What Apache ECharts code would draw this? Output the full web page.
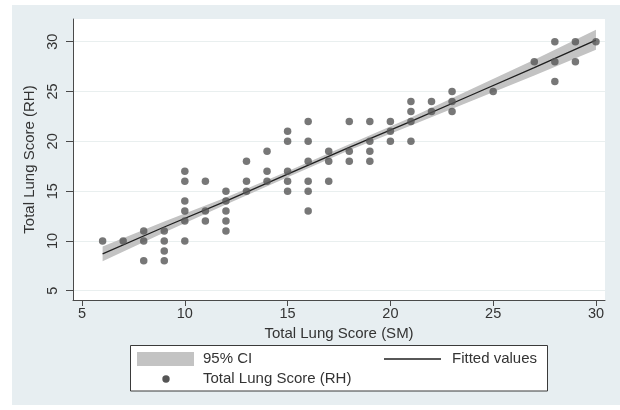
<!DOCTYPE html>
<html>
<head>
    <meta charset="UTF-8">
    <title>Total Lung Score</title>
    <style type="text/css">
        html, body {
            margin: 0;
            padding: 0;
            background: #ffffff;
        }

        #mychart {
            width: 620px;
            height: 410px;
        }
    </style>
    <script type="text/javascript" src="https://cdn.jsdelivr.net/npm/echarts@6/dist/echarts.min.js"></script>
</head>
<body>
<div id="mychart"></div>
<script type="text/javascript">
    // scatter: Total Lung Score SM (x) vs RH (y)
    var smScore = [6, 7, 8, 8, 8, 9, 9, 9, 9,
        10, 10, 10, 10, 10, 10, 11, 11, 11, 12, 12, 12, 12, 12,
        13, 13, 13, 14, 14, 14, 15, 15, 15, 15, 15, 16, 16, 16, 16, 16, 16,
        17, 17, 17, 18, 18, 18, 19, 19, 19, 19, 20, 20, 20,
        21, 21, 21, 21, 22, 22, 23, 23, 23, 25, 27, 28, 28, 28, 29, 29, 30];
    var rhScore = [10, 10, 11, 10, 8, 11, 10, 9, 8,
        17, 16, 14, 13, 12, 10, 16, 13, 12, 15, 14, 13, 12, 11,
        18, 16, 15, 19, 17, 16, 21, 20, 17, 16, 15, 22, 20, 18, 16, 15, 13,
        19, 18, 16, 22, 19, 18, 22, 20, 19, 18, 22, 21, 20,
        24, 23, 22, 20, 24, 23, 25, 24, 23, 25, 28, 30, 28, 26, 30, 28, 30];

    // fitted line and 95% CI
    var fitX = [6, 9, 12, 15, 18, 21, 24, 27, 30];
    var fitY = [8.7, 11.4, 14.0, 16.7, 19.4, 22.0, 24.7, 27.4, 30.15];
    var ciLow = [7.95, 10.85, 13.65, 16.4, 19.1, 21.6, 24.1, 26.6, 29.2];
    var ciHigh = [9.45, 11.95, 14.35, 17.0, 19.7, 22.4, 25.3, 28.2, 31.2];

    var xTicks = [5, 10, 15, 20, 25, 30];
    var yTicks = [5, 10, 15, 20, 25, 30];

    var myChart = echarts.init(document.getElementById('mychart'));

    var scatterData = smScore.map(function (x, i) {
        return [x, rhScore[i]];
    });
    var ciData = fitX.map(function (x, i) {
        return [x, ciLow[i], ciHigh[i]];
    });
    var fitData = fitX.map(function (x, i) {
        return [x, fitY[i]];
    });

    var font = 'Liberation Sans, Arial, sans-serif';
    var txtColor = '#333333';
    var axisColor = '#4a4a4a';

    // CI band as one polygon, drawn once from the whole data
    function renderBand(params, api) {
        if (params.dataIndex !== 0) {
            return;
        }
        var upper = [], lower = [];
        for (var i = 0; i < ciData.length; i++) {
            upper.push(api.coord([ciData[i][0], ciData[i][2]]));
            lower.unshift(api.coord([ciData[i][0], ciData[i][1]]));
        }
        return {
            type: 'polygon',
            shape: {points: upper.concat(lower)},
            style: {fill: '#c3c3c3'}
        };
    }

    var option = {
        animation: false,
        backgroundColor: '#ffffff',
        textStyle: {fontFamily: font},
        grid: {
            left: 73,
            right: 15,
            top: 19,
            bottom: 110,
            show: true,
            backgroundColor: '#ffffff',
            borderWidth: 0
        },
        xAxis: {
            type: 'value',
            min: 4.56,
            max: 30.44,
            name: 'Total Lung Score (SM)',
            nameLocation: 'middle',
            nameGap: 19,
            nameTextStyle: {fontSize: 15, color: txtColor, fontFamily: font},
            axisLine: {show: true, onZero: false, lineStyle: {color: axisColor, width: 1}},
            axisTick: {show: true, length: 6, customValues: xTicks, lineStyle: {color: axisColor}},
            axisLabel: {customValues: xTicks, fontSize: 14.5, color: txtColor, margin: 6, fontFamily: font},
            splitLine: {show: false}
        },
        yAxis: {
            type: 'value',
            min: 4.07,
            max: 32.28,
            name: 'Total Lung Score (RH)',
            nameLocation: 'middle',
            nameGap: 30,
            nameRotate: 90,
            nameTextStyle: {fontSize: 15, color: txtColor, fontFamily: font},
            axisLine: {show: true, onZero: false, lineStyle: {color: axisColor, width: 1}},
            axisTick: {show: true, length: 7, customValues: yTicks, lineStyle: {color: axisColor}},
            axisLabel: {customValues: yTicks, rotate: 90, fontSize: 14.5, color: txtColor, margin: 13, fontFamily: font},
            splitLine: {show: true, lineStyle: {color: '#e9efef', width: 1}}
        },
        series: [
            {
                type: 'custom',
                data: ciData,
                renderItem: renderBand,
                silent: true,
                clip: true,
                z: 1
            },
            {
                type: 'line',
                data: fitData,
                symbol: 'none',
                lineStyle: {color: '#1f1f1f', width: 1.3},
                z: 2
            },
            {
                type: 'scatter',
                data: scatterData,
                symbol: 'circle',
                symbolSize: 7.5,
                itemStyle: {color: '#555555'},
                z: 3
            }
        ],
        graphic: [
            {
                type: 'rect',
                z: -100,
                shape: {x: 12, y: 5, width: 608, height: 400},
                style: {fill: '#e7eef1'}
            },
            {
                type: 'rect',
                shape: {x: 130.5, y: 345.5, width: 417, height: 45.5},
                style: {fill: '#ffffff', stroke: '#3a3a3a', lineWidth: 1}
            },
            {
                type: 'rect',
                shape: {x: 137, y: 352, width: 57, height: 14},
                style: {fill: '#c3c3c3'}
            },
            {
                type: 'text',
                x: 203, y: 359,
                style: {text: '95% CI', font: '15px ' + font, fill: txtColor, verticalAlign: 'middle'}
            },
            {
                type: 'line',
                shape: {x1: 384, y1: 359, x2: 441, y2: 359},
                style: {stroke: '#1f1f1f', lineWidth: 1.3}
            },
            {
                type: 'text',
                x: 452, y: 359,
                style: {text: 'Fitted values', font: '15px ' + font, fill: txtColor, verticalAlign: 'middle'}
            },
            {
                type: 'circle',
                shape: {cx: 166, cy: 379, r: 3.7},
                style: {fill: '#555555'}
            },
            {
                type: 'text',
                x: 203, y: 379,
                style: {text: 'Total Lung Score (RH)', font: '15px ' + font, fill: txtColor, verticalAlign: 'middle'}
            }
        ]
    };
    myChart.setOption(option);
</script>
</body>
</html>
